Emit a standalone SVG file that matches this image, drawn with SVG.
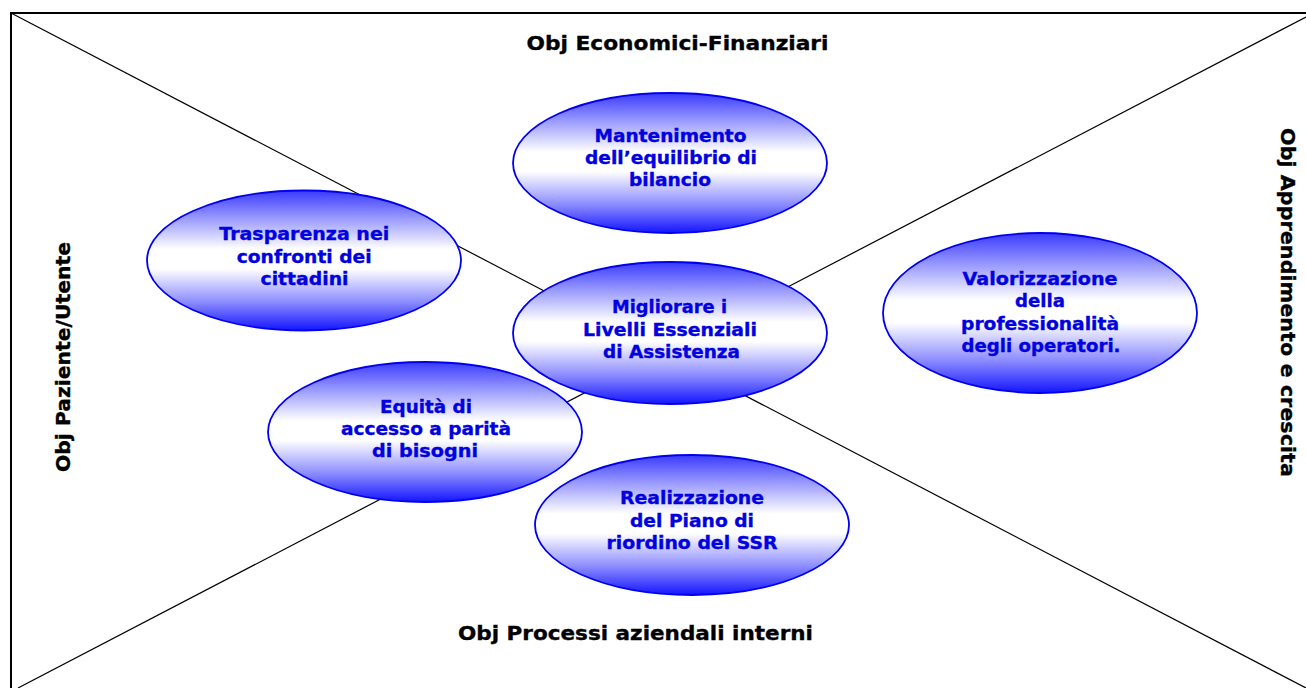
<svg xmlns="http://www.w3.org/2000/svg" width="1306" height="688" viewBox="0 0 1306 688">
<style>
.frame{stroke:#000;stroke-width:2;fill:none}
.diag{stroke:#000;stroke-width:1.2;fill:none}
.node ellipse{fill:url(#g);stroke:#0000f0;stroke-width:1.8}
.node text{font-family:"DejaVu Sans",Verdana,sans-serif;font-weight:bold;font-size:17px;fill:#0000e0;stroke:#0000e0;stroke-width:0.35;text-anchor:middle}
.lbl{font-family:"DejaVu Sans",Verdana,sans-serif;font-weight:bold;font-size:19.5px;fill:#000;stroke:#000;stroke-width:0.35;text-anchor:middle}
</style>
<defs>
<linearGradient id="g" x1="0" y1="0" x2="0" y2="1">
<stop offset="0" stop-color="#3a3aff"/>
<stop offset="0.2" stop-color="#9a9aff"/>
<stop offset="0.42" stop-color="#ffffff"/>
<stop offset="0.56" stop-color="#ffffff"/>
<stop offset="0.8" stop-color="#8a8aff"/>
<stop offset="1" stop-color="#1414ff"/>
</linearGradient>
</defs>
<rect width="1306" height="688" fill="#fff"/>
<g id="connectors">
<path class="frame" d="M11,690 V13 H1308"/>
<line class="diag" x1="11" y1="13" x2="1306" y2="688"/>
<line class="diag" x1="1306" y1="17" x2="18" y2="688"/>
</g>
<g id="labels">
<text class="lbl" x="677.5" y="50" textLength="302" lengthAdjust="spacingAndGlyphs">Obj Economici-Finanziari</text>
<text class="lbl" x="635.5" y="640" textLength="355" lengthAdjust="spacingAndGlyphs">Obj Processi aziendali interni</text>
<text class="lbl" transform="translate(70,357) rotate(-90)" textLength="230" lengthAdjust="spacingAndGlyphs">Obj Paziente/Utente</text>
<text class="lbl" transform="translate(1281,302.5) rotate(90)" textLength="349" lengthAdjust="spacingAndGlyphs">Obj Apprendimento e crescita</text>
</g>
<g id="n-mantenimento" class="node">
<ellipse cx="670" cy="163" rx="157" ry="70"/>
<text x="670.5" y="142" textLength="152" lengthAdjust="spacingAndGlyphs">Mantenimento</text>
<text x="671" y="164" textLength="172" lengthAdjust="spacingAndGlyphs">dell’equilibrio di</text>
<text x="670" y="186" textLength="82" lengthAdjust="spacingAndGlyphs">bilancio</text>
</g>
<g id="n-trasparenza" class="node">
<ellipse cx="304" cy="260.5" rx="157" ry="70"/>
<text x="304.3" y="240" textLength="170" lengthAdjust="spacingAndGlyphs">Trasparenza nei</text>
<text x="304.2" y="263" textLength="135" lengthAdjust="spacingAndGlyphs">confronti dei</text>
<text x="304.5" y="285" textLength="88" lengthAdjust="spacingAndGlyphs">cittadini</text>
</g>
<g id="n-migliorare" class="node">
<ellipse cx="670" cy="333" rx="157" ry="71"/>
<text x="669.5" y="313" textLength="115" lengthAdjust="spacingAndGlyphs">Migliorare i</text>
<text x="670" y="336" textLength="174" lengthAdjust="spacingAndGlyphs">Livelli Essenziali</text>
<text x="671.5" y="358" textLength="137" lengthAdjust="spacingAndGlyphs">di Assistenza</text>
</g>
<g id="n-valorizzazione" class="node">
<ellipse cx="1040" cy="313" rx="157" ry="80"/>
<text x="1040" y="285" textLength="155" lengthAdjust="spacingAndGlyphs">Valorizzazione</text>
<text x="1040" y="307" textLength="50" lengthAdjust="spacingAndGlyphs">della</text>
<text x="1040" y="330" textLength="158" lengthAdjust="spacingAndGlyphs">professionalità</text>
<text x="1041" y="352" textLength="159" lengthAdjust="spacingAndGlyphs">degli operatori.</text>
</g>
<g id="n-equita" class="node">
<ellipse cx="425" cy="432" rx="157" ry="70"/>
<text x="426" y="413" textLength="92" lengthAdjust="spacingAndGlyphs">Equità di</text>
<text x="426" y="435" textLength="170" lengthAdjust="spacingAndGlyphs">accesso a parità</text>
<text x="425" y="457" textLength="106" lengthAdjust="spacingAndGlyphs">di bisogni</text>
</g>
<g id="n-realizzazione" class="node">
<ellipse cx="692" cy="525" rx="157" ry="70"/>
<text x="692" y="504" textLength="144" lengthAdjust="spacingAndGlyphs">Realizzazione</text>
<text x="692" y="527" textLength="124" lengthAdjust="spacingAndGlyphs">del Piano di</text>
<text x="692" y="549" textLength="171" lengthAdjust="spacingAndGlyphs">riordino del SSR</text>
</g>
</svg>
